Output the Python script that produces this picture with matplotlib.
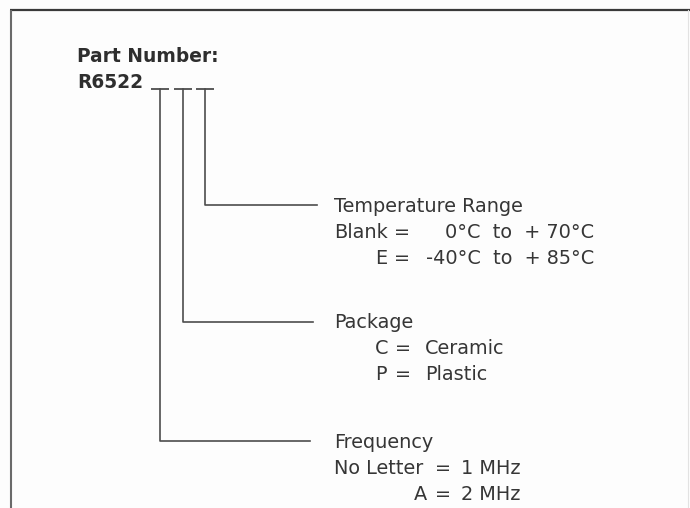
import matplotlib.pyplot as plt

# contenu du schéma de référence
titre = "Part Number:"
prefixe = "R6522"
groupes = ["Temperature Range", "Package", "Frequency"]
cles = [["Blank", "E"], ["C", "P"], ["No Letter", "A"]]
valeurs = [["0°C  to  + 70°C", "-40°C  to  + 85°C"], ["Ceramic", "Plastic"], ["1 MHz", "2 MHz"]]

# mise en page (pixels, origine en haut à gauche)
x_barres = [205, 183, 160]          # colonne verticale de chaque groupe
y_coudes = [205, 322, 441]          # hauteur du coude horizontal
x_fin = [317, 313, 310]             # fin du trait horizontal
y_titres = [212, 328, 448]          # ligne de base du nom du groupe
pas = 26                            # interligne
x_cles = [[334, 375], [375, 375], [334, 414]]     # début de la clé
x_egal = [[402, 402], [403, 403], [443, 443]]     # centre du signe =
x_val = [[594, 594], [425, 425], [461, 461]]      # position de la valeur
align_val = ["right", "left", "left"]

gris_txt = "#363636"
gris_trait = "#4d4d4d"
fs = 13.9

fig = plt.figure(figsize=(6.9, 5.08), dpi=100)
fig.patch.set_facecolor("#fdfdfd")
ax = fig.add_axes([0, 0, 1, 1])
ax.set_xlim(0, 690)
ax.set_ylim(508, 0)
ax.axis("off")

# cadre
ax.plot([10, 690], [10, 10], color="#3a3a3a", lw=1.6, solid_capstyle="butt")
ax.plot([11, 11], [10, 508], color="#6a6a6a", lw=1.5, solid_capstyle="butt")
ax.plot([688, 688], [10, 508], color="#e2e2e2", lw=0.8)

ax.text(77, 62, titre, fontsize=13.4, fontweight="bold", color="#2e2e2e", va="baseline")
ax.text(77, 88, prefixe, fontsize=13.4, fontweight="bold", color="#2e2e2e", va="baseline")

# petits traits de soulignement sous les positions vides
for xb in x_barres:
    ax.plot([xb - 9, xb + 9], [89, 89], color=gris_trait, lw=1.3, solid_capstyle="butt")

for i, nom in enumerate(groupes):
    xb, yc = x_barres[i], y_coudes[i]
    ax.plot([xb, xb, x_fin[i]], [89, yc, yc], color=gris_trait, lw=1.2)
    ax.text(334, y_titres[i], nom, fontsize=fs, color=gris_txt, va="baseline")
    for j, cle in enumerate(cles[i]):
        yl = y_titres[i] + pas * (j + 1)
        ax.text(x_cles[i][j], yl, cle, fontsize=fs, color=gris_txt, va="baseline")
        ax.text(x_egal[i][j], yl, "=", fontsize=fs, color=gris_txt, va="baseline", ha="center")
        ax.text(x_val[i][j], yl, valeurs[i][j], fontsize=fs, color=gris_txt,
                va="baseline", ha=align_val[i])

fig.savefig("out.png", dpi=100, facecolor=fig.get_facecolor())
